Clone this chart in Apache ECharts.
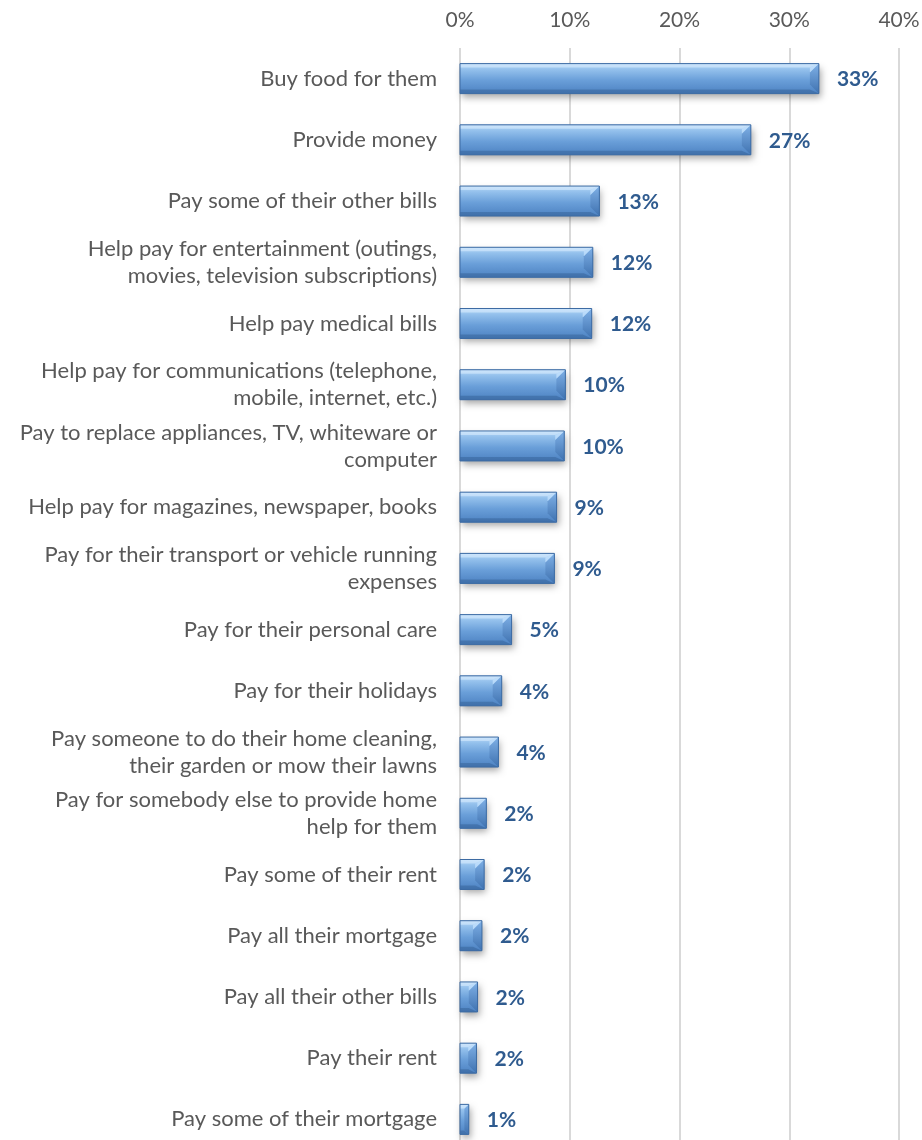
<!DOCTYPE html>
<html><head><meta charset="utf-8">
<script src="https://cdn.jsdelivr.net/npm/echarts@6/dist/echarts.min.js"></script>
<style>html,body{margin:0;padding:0;background:#fff}#c{width:922px;height:1140px}</style>
</head><body><div id="c"></div>
<script>
var categories = [
  "Buy food for them",
  "Provide money",
  "Pay some of their other bills",
  "Help pay for entertainment (outings,\nmovies, television subscriptions)",
  "Help pay medical bills",
  "Help pay for communications (telephone,\nmobile, internet, etc.)",
  "Pay to replace appliances, TV, whiteware or\ncomputer",
  "Help pay for magazines, newspaper, books",
  "Pay for their transport or vehicle running\nexpenses",
  "Pay for their personal care",
  "Pay for their holidays",
  "Pay someone to do their home cleaning,\ntheir garden or mow their lawns",
  "Pay for somebody else to provide home\nhelp for them",
  "Pay some of their rent",
  "Pay all their mortgage",
  "Pay all their other bills",
  "Pay their rent",
  "Pay some of their mortgage"
];
var values = [32.7, 26.5, 12.7, 12.1, 12.0, 9.6, 9.5, 8.8, 8.6, 4.7, 3.8, 3.5, 2.4, 2.2, 2.0, 1.6, 1.5, 0.8];
var valueLabels = ["33%","27%","13%","12%","12%","10%","10%","9%","9%","5%","4%","4%","2%","2%","2%","2%","2%","1%"];
var xTicks = [0, 10, 20, 30, 40];

var FONT = 'Lato, "Noto Sans", sans-serif';
var chart = echarts.init(document.getElementById('c'), null, {renderer: 'canvas'});

function renderItem(params, api) {
  var idx = api.value(0);
  var v = api.value(1);
  var p0 = api.coord([0, idx]);
  var p1 = api.coord([v, idx]);
  var h = api.size([0, 1])[1] * 0.49;
  var x0 = p0[0], x1 = p1[0];
  var y0 = p0[1] - h / 2, y1 = p0[1] + h / 2;
  var w = x1 - x0;
  var b = Math.min(9, w / 2);
  var bt = 4;
  var bodyGrad = new echarts.graphic.LinearGradient(0, 0, 0, 1, [
    {offset: 0, color: '#b9d9f7'},
    {offset: 0.2, color: '#93c0ec'},
    {offset: 0.55, color: '#6a9fd9'},
    {offset: 1, color: '#4d82c2'}
  ]);
  return {
    type: 'group',
    children: [
      {type: 'rect', shape: {x: x0, y: y0, width: w, height: y1 - y0},
        style: {fill: '#5a8cc8', shadowBlur: 7, shadowOffsetX: 2, shadowOffsetY: 4, shadowColor: 'rgba(0,0,0,0.35)'}},
      {type: 'rect', shape: {x: x0, y: y0, width: w, height: y1 - y0},
        style: {fill: bodyGrad}},
      {type: 'polygon', shape: {points: [[x0, y0], [x1, y0], [x1 - b, y0 + bt], [x0, y0 + bt]]},
        style: {fill: 'rgba(220,238,255,0.55)'}},
      {type: 'polygon', shape: {points: [[x0, y1], [x1, y1], [x1 - b, y1 - bt], [x0, y1 - bt]]},
        style: {fill: 'rgba(40,80,130,0.35)'}},
      {type: 'polygon', shape: {points: [[x1 - b, y0 + b], [x1, y0], [x1, y1], [x1 - b, y1 - b]]},
        style: {fill: new echarts.graphic.LinearGradient(0, 0, 0, 1, [
          {offset: 0, color: '#7fb0e6'}, {offset: 1, color: '#3f72b0'}])}},
      {type: 'polygon', shape: {points: [[x1 - b, y0 + bt], [x1, y0], [x1 - b, y0 + b]]},
        style: {fill: 'rgba(200,228,255,0.7)'}},
      {type: 'rect', shape: {x: x0, y: y0, width: w, height: y1 - y0},
        style: {fill: 'none', stroke: '#3d6ba3', lineWidth: 1}},
      {type: 'text', style: {text: valueLabels[idx], x: x1 + 18, y: p0[1] + 1,
        verticalAlign: 'middle', align: 'left',
        font: 'bold 21px ' + FONT, fill: '#2f5b8f'}}
    ]
  };
}

chart.setOption({
  animation: false,
  backgroundColor: '#fff',
  grid: {left: 460, right: 23, top: 48, height: 1102, outerBoundsMode: 'none'},
  xAxis: {
    type: 'value', position: 'top', min: 0, max: 40, interval: 10,
    axisLine: {show: false}, axisTick: {show: false},
    splitLine: {lineStyle: {color: '#d9d9d9', width: 2}},
    axisLabel: {formatter: function (v) { return xTicks.indexOf(v) >= 0 ? v + '%' : ''; },
      color: '#595959', fontSize: 21, fontFamily: FONT, margin: 17}
  },
  yAxis: {
    type: 'category', data: categories, inverse: true,
    axisLine: {show: false}, axisTick: {show: false},
    axisLabel: {color: '#595959', fontSize: 22, fontFamily: FONT, margin: 23,
      lineHeight: 27, align: 'right'}
  },
  series: [{
    type: 'custom',
    renderItem: renderItem,
    encode: {x: 1, y: 0},
    data: values.map(function (v, i) { return [i, v]; })
  }]
});
</script></body></html>
